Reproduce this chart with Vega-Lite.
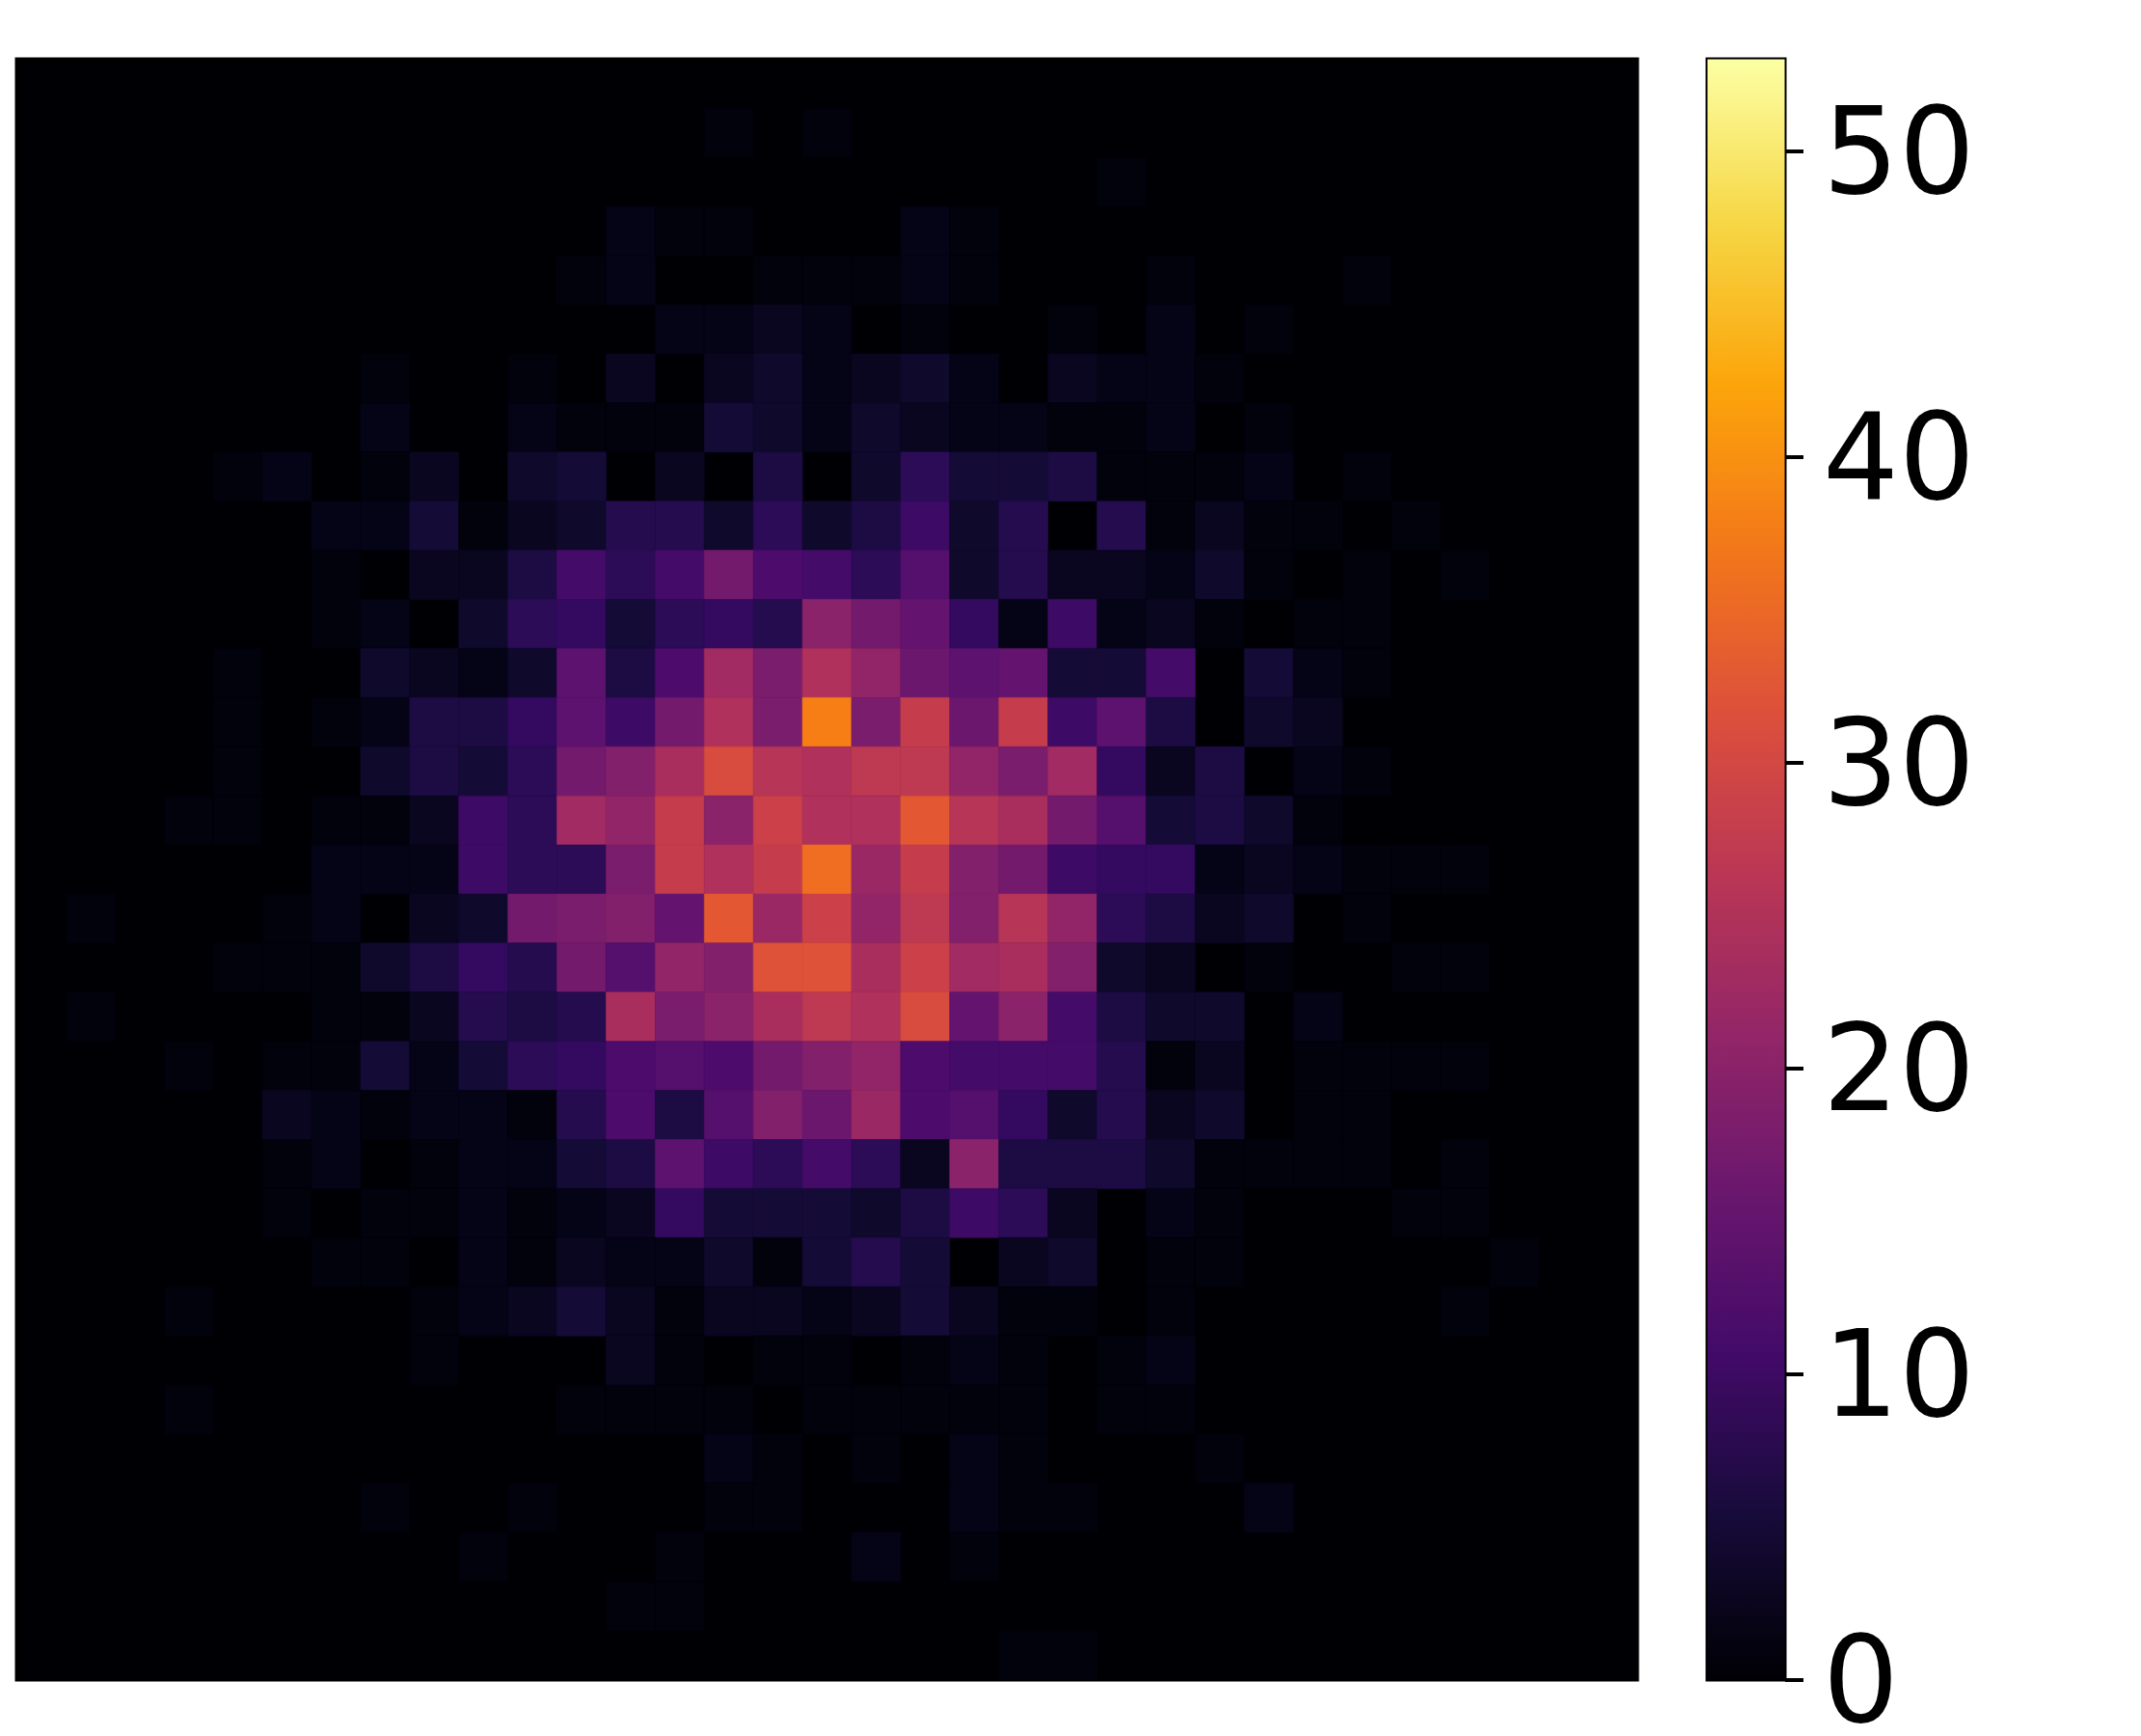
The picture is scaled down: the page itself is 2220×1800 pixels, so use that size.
{"$schema":"https://vega.github.io/schema/vega-lite/v6.json","background":"white","padding":{"left":15.5,"top":59.5,"right":30,"bottom":0},"spacing":69,"config":{"concat":{"spacing":69}},"hconcat":[{"width":1680,"height":1680,"view":{"fill":"#000004","stroke":"black","strokeWidth":4},"data":{"values":[
{"c":14,"r":1,"v":1},{"c":16,"r":1,"v":1},{"c":22,"r":2,"v":1},
{"c":12,"r":3,"v":2},{"c":13,"r":3,"v":1},{"c":14,"r":3,"v":1},{"c":18,"r":3,"v":2},{"c":19,"r":3,"v":1},
{"c":11,"r":4,"v":1},{"c":12,"r":4,"v":2},{"c":15,"r":4,"v":1},{"c":16,"r":4,"v":1},{"c":17,"r":4,"v":1},{"c":18,"r":4,"v":2},{"c":19,"r":4,"v":1},{"c":23,"r":4,"v":1},{"c":27,"r":4,"v":1},
{"c":13,"r":5,"v":2},{"c":14,"r":5,"v":2},{"c":15,"r":5,"v":3},{"c":16,"r":5,"v":2},{"c":18,"r":5,"v":1},{"c":21,"r":5,"v":1},{"c":23,"r":5,"v":2},{"c":25,"r":5,"v":1},
{"c":7,"r":6,"v":1},{"c":10,"r":6,"v":1},{"c":12,"r":6,"v":3},{"c":14,"r":6,"v":3},{"c":15,"r":6,"v":4},{"c":16,"r":6,"v":2},{"c":17,"r":6,"v":3},{"c":18,"r":6,"v":4},{"c":19,"r":6,"v":2},{"c":21,"r":6,"v":3},{"c":22,"r":6,"v":2},{"c":23,"r":6,"v":2},{"c":24,"r":6,"v":1},
{"c":7,"r":7,"v":2},{"c":10,"r":7,"v":2},{"c":11,"r":7,"v":1},{"c":12,"r":7,"v":1},{"c":13,"r":7,"v":1},{"c":14,"r":7,"v":5},{"c":15,"r":7,"v":4},{"c":16,"r":7,"v":2},{"c":17,"r":7,"v":4},{"c":18,"r":7,"v":3},{"c":19,"r":7,"v":2},{"c":20,"r":7,"v":2},{"c":21,"r":7,"v":1},{"c":22,"r":7,"v":1},{"c":23,"r":7,"v":2},{"c":25,"r":7,"v":1},
{"c":4,"r":8,"v":1},{"c":5,"r":8,"v":2},{"c":7,"r":8,"v":1},{"c":8,"r":8,"v":3},{"c":10,"r":8,"v":4},{"c":11,"r":8,"v":5},{"c":13,"r":8,"v":3},{"c":15,"r":8,"v":6},{"c":17,"r":8,"v":4},{"c":18,"r":8,"v":8},{"c":19,"r":8,"v":5},{"c":20,"r":8,"v":5},{"c":21,"r":8,"v":6},{"c":22,"r":8,"v":1},{"c":23,"r":8,"v":1},{"c":24,"r":8,"v":1},{"c":25,"r":8,"v":2},{"c":27,"r":8,"v":1},
{"c":6,"r":9,"v":2},{"c":7,"r":9,"v":2},{"c":8,"r":9,"v":5},{"c":9,"r":9,"v":1},{"c":10,"r":9,"v":3},{"c":11,"r":9,"v":4},{"c":12,"r":9,"v":7},{"c":13,"r":9,"v":7},{"c":14,"r":9,"v":4},{"c":15,"r":9,"v":8},{"c":16,"r":9,"v":4},{"c":17,"r":9,"v":6},{"c":18,"r":9,"v":10},{"c":19,"r":9,"v":4},{"c":20,"r":9,"v":7},{"c":22,"r":9,"v":7},{"c":23,"r":9,"v":1},{"c":24,"r":9,"v":3},{"c":25,"r":9,"v":1},{"c":26,"r":9,"v":1},{"c":28,"r":9,"v":1},
{"c":6,"r":10,"v":1},{"c":8,"r":10,"v":3},{"c":9,"r":10,"v":3},{"c":10,"r":10,"v":6},{"c":11,"r":10,"v":11},{"c":12,"r":10,"v":8},{"c":13,"r":10,"v":11},{"c":14,"r":10,"v":17},{"c":15,"r":10,"v":12},{"c":16,"r":10,"v":11},{"c":17,"r":10,"v":8},{"c":18,"r":10,"v":13},{"c":19,"r":10,"v":4},{"c":20,"r":10,"v":7},{"c":21,"r":10,"v":3},{"c":22,"r":10,"v":3},{"c":23,"r":10,"v":2},{"c":24,"r":10,"v":4},{"c":25,"r":10,"v":1},{"c":27,"r":10,"v":1},{"c":29,"r":10,"v":1},
{"c":6,"r":11,"v":1},{"c":7,"r":11,"v":2},{"c":9,"r":11,"v":4},{"c":10,"r":11,"v":8},{"c":11,"r":11,"v":9},{"c":12,"r":11,"v":5},{"c":13,"r":11,"v":8},{"c":14,"r":11,"v":9},{"c":15,"r":11,"v":7},{"c":16,"r":11,"v":20},{"c":17,"r":11,"v":17},{"c":18,"r":11,"v":15},{"c":19,"r":11,"v":9},{"c":20,"r":11,"v":2},{"c":21,"r":11,"v":10},{"c":22,"r":11,"v":2},{"c":23,"r":11,"v":3},{"c":24,"r":11,"v":1},{"c":26,"r":11,"v":1},{"c":27,"r":11,"v":1},
{"c":4,"r":12,"v":1},{"c":7,"r":12,"v":4},{"c":8,"r":12,"v":3},{"c":9,"r":12,"v":2},{"c":10,"r":12,"v":4},{"c":11,"r":12,"v":14},{"c":12,"r":12,"v":6},{"c":13,"r":12,"v":12},{"c":14,"r":12,"v":23},{"c":15,"r":12,"v":18},{"c":16,"r":12,"v":25},{"c":17,"r":12,"v":21},{"c":18,"r":12,"v":16},{"c":19,"r":12,"v":14},{"c":20,"r":12,"v":15},{"c":21,"r":12,"v":5},{"c":22,"r":12,"v":5},{"c":23,"r":12,"v":11},{"c":25,"r":12,"v":5},{"c":26,"r":12,"v":2},{"c":27,"r":12,"v":1},
{"c":4,"r":13,"v":1},{"c":6,"r":13,"v":1},{"c":7,"r":13,"v":2},{"c":8,"r":13,"v":6},{"c":9,"r":13,"v":6},{"c":10,"r":13,"v":9},{"c":11,"r":13,"v":14},{"c":12,"r":13,"v":10},{"c":13,"r":13,"v":17},{"c":14,"r":13,"v":25},{"c":15,"r":13,"v":18},{"c":16,"r":13,"v":38},{"c":17,"r":13,"v":18},{"c":18,"r":13,"v":28},{"c":19,"r":13,"v":16},{"c":20,"r":13,"v":28},{"c":21,"r":13,"v":10},{"c":22,"r":13,"v":14},{"c":23,"r":13,"v":6},{"c":25,"r":13,"v":4},{"c":26,"r":13,"v":3},
{"c":4,"r":14,"v":1},{"c":7,"r":14,"v":4},{"c":8,"r":14,"v":6},{"c":9,"r":14,"v":5},{"c":10,"r":14,"v":8},{"c":11,"r":14,"v":17},{"c":12,"r":14,"v":19},{"c":13,"r":14,"v":24},{"c":14,"r":14,"v":31},{"c":15,"r":14,"v":26},{"c":16,"r":14,"v":25},{"c":17,"r":14,"v":27},{"c":18,"r":14,"v":27},{"c":19,"r":14,"v":21},{"c":20,"r":14,"v":18},{"c":21,"r":14,"v":23},{"c":22,"r":14,"v":9},{"c":23,"r":14,"v":3},{"c":24,"r":14,"v":6},{"c":26,"r":14,"v":2},{"c":27,"r":14,"v":1},
{"c":3,"r":15,"v":1},{"c":4,"r":15,"v":1},{"c":6,"r":15,"v":1},{"c":7,"r":15,"v":1},{"c":8,"r":15,"v":3},{"c":9,"r":15,"v":10},{"c":10,"r":15,"v":8},{"c":11,"r":15,"v":23},{"c":12,"r":15,"v":21},{"c":13,"r":15,"v":28},{"c":14,"r":15,"v":20},{"c":15,"r":15,"v":29},{"c":16,"r":15,"v":25},{"c":17,"r":15,"v":25},{"c":18,"r":15,"v":33},{"c":19,"r":15,"v":26},{"c":20,"r":15,"v":24},{"c":21,"r":15,"v":17},{"c":22,"r":15,"v":13},{"c":23,"r":15,"v":5},{"c":24,"r":15,"v":6},{"c":25,"r":15,"v":4},{"c":26,"r":15,"v":1},
{"c":6,"r":16,"v":2},{"c":7,"r":16,"v":2},{"c":8,"r":16,"v":2},{"c":9,"r":16,"v":10},{"c":10,"r":16,"v":8},{"c":11,"r":16,"v":8},{"c":12,"r":16,"v":18},{"c":13,"r":16,"v":28},{"c":14,"r":16,"v":25},{"c":15,"r":16,"v":28},{"c":16,"r":16,"v":36},{"c":17,"r":16,"v":22},{"c":18,"r":16,"v":28},{"c":19,"r":16,"v":19},{"c":20,"r":16,"v":17},{"c":21,"r":16,"v":10},{"c":22,"r":16,"v":9},{"c":23,"r":16,"v":9},{"c":24,"r":16,"v":2},{"c":25,"r":16,"v":3},{"c":26,"r":16,"v":2},{"c":27,"r":16,"v":1},{"c":28,"r":16,"v":1},{"c":29,"r":16,"v":1},
{"c":1,"r":17,"v":1},{"c":5,"r":17,"v":1},{"c":6,"r":17,"v":2},{"c":8,"r":17,"v":3},{"c":9,"r":17,"v":4},{"c":10,"r":17,"v":17},{"c":11,"r":17,"v":18},{"c":12,"r":17,"v":19},{"c":13,"r":17,"v":15},{"c":14,"r":17,"v":33},{"c":15,"r":17,"v":22},{"c":16,"r":17,"v":29},{"c":17,"r":17,"v":21},{"c":18,"r":17,"v":27},{"c":19,"r":17,"v":19},{"c":20,"r":17,"v":26},{"c":21,"r":17,"v":21},{"c":22,"r":17,"v":8},{"c":23,"r":17,"v":6},{"c":24,"r":17,"v":3},{"c":25,"r":17,"v":4},{"c":27,"r":17,"v":1},
{"c":4,"r":18,"v":1},{"c":5,"r":18,"v":1},{"c":6,"r":18,"v":1},{"c":7,"r":18,"v":4},{"c":8,"r":18,"v":6},{"c":9,"r":18,"v":9},{"c":10,"r":18,"v":7},{"c":11,"r":18,"v":17},{"c":12,"r":18,"v":13},{"c":13,"r":18,"v":21},{"c":14,"r":18,"v":19},{"c":15,"r":18,"v":32},{"c":16,"r":18,"v":32},{"c":17,"r":18,"v":24},{"c":18,"r":18,"v":29},{"c":19,"r":18,"v":23},{"c":20,"r":18,"v":24},{"c":21,"r":18,"v":19},{"c":22,"r":18,"v":4},{"c":23,"r":18,"v":3},{"c":25,"r":18,"v":1},{"c":28,"r":18,"v":1},{"c":29,"r":18,"v":1},
{"c":1,"r":19,"v":1},{"c":6,"r":19,"v":1},{"c":7,"r":19,"v":1},{"c":8,"r":19,"v":3},{"c":9,"r":19,"v":7},{"c":10,"r":19,"v":6},{"c":11,"r":19,"v":7},{"c":12,"r":19,"v":24},{"c":13,"r":19,"v":18},{"c":14,"r":19,"v":20},{"c":15,"r":19,"v":24},{"c":16,"r":19,"v":27},{"c":17,"r":19,"v":25},{"c":18,"r":19,"v":31},{"c":19,"r":19,"v":15},{"c":20,"r":19,"v":20},{"c":21,"r":19,"v":11},{"c":22,"r":19,"v":6},{"c":23,"r":19,"v":4},{"c":24,"r":19,"v":4},{"c":26,"r":19,"v":2},
{"c":3,"r":20,"v":1},{"c":5,"r":20,"v":1},{"c":6,"r":20,"v":1},{"c":7,"r":20,"v":5},{"c":8,"r":20,"v":2},{"c":9,"r":20,"v":5},{"c":10,"r":20,"v":8},{"c":11,"r":20,"v":9},{"c":12,"r":20,"v":12},{"c":13,"r":20,"v":13},{"c":14,"r":20,"v":12},{"c":15,"r":20,"v":17},{"c":16,"r":20,"v":19},{"c":17,"r":20,"v":21},{"c":18,"r":20,"v":12},{"c":19,"r":20,"v":11},{"c":20,"r":20,"v":11},{"c":21,"r":20,"v":11},{"c":22,"r":20,"v":7},{"c":23,"r":20,"v":1},{"c":24,"r":20,"v":3},{"c":26,"r":20,"v":1},{"c":27,"r":20,"v":1},{"c":28,"r":20,"v":1},{"c":29,"r":20,"v":1},
{"c":5,"r":21,"v":3},{"c":6,"r":21,"v":2},{"c":7,"r":21,"v":1},{"c":8,"r":21,"v":2},{"c":9,"r":21,"v":2},{"c":10,"r":21,"v":1},{"c":11,"r":21,"v":7},{"c":12,"r":21,"v":12},{"c":13,"r":21,"v":6},{"c":14,"r":21,"v":13},{"c":15,"r":21,"v":19},{"c":16,"r":21,"v":16},{"c":17,"r":21,"v":22},{"c":18,"r":21,"v":12},{"c":19,"r":21,"v":13},{"c":20,"r":21,"v":9},{"c":21,"r":21,"v":4},{"c":22,"r":21,"v":7},{"c":23,"r":21,"v":3},{"c":24,"r":21,"v":4},{"c":26,"r":21,"v":1},{"c":27,"r":21,"v":1},
{"c":5,"r":22,"v":1},{"c":6,"r":22,"v":2},{"c":8,"r":22,"v":1},{"c":9,"r":22,"v":2},{"c":10,"r":22,"v":2},{"c":11,"r":22,"v":5},{"c":12,"r":22,"v":6},{"c":13,"r":22,"v":14},{"c":14,"r":22,"v":10},{"c":15,"r":22,"v":8},{"c":16,"r":22,"v":11},{"c":17,"r":22,"v":8},{"c":18,"r":22,"v":3},{"c":19,"r":22,"v":20},{"c":20,"r":22,"v":6},{"c":21,"r":22,"v":6},{"c":22,"r":22,"v":6},{"c":23,"r":22,"v":4},{"c":24,"r":22,"v":1},{"c":25,"r":22,"v":1},{"c":26,"r":22,"v":1},{"c":27,"r":22,"v":1},{"c":29,"r":22,"v":1},
{"c":5,"r":23,"v":1},{"c":7,"r":23,"v":1},{"c":8,"r":23,"v":1},{"c":9,"r":23,"v":2},{"c":10,"r":23,"v":1},{"c":11,"r":23,"v":2},{"c":12,"r":23,"v":3},{"c":13,"r":23,"v":9},{"c":14,"r":23,"v":5},{"c":15,"r":23,"v":5},{"c":16,"r":23,"v":5},{"c":17,"r":23,"v":4},{"c":18,"r":23,"v":6},{"c":19,"r":23,"v":10},{"c":20,"r":23,"v":8},{"c":21,"r":23,"v":3},{"c":23,"r":23,"v":2},{"c":24,"r":23,"v":1},{"c":28,"r":23,"v":1},{"c":29,"r":23,"v":1},
{"c":6,"r":24,"v":1},{"c":7,"r":24,"v":1},{"c":9,"r":24,"v":2},{"c":10,"r":24,"v":1},{"c":11,"r":24,"v":3},{"c":12,"r":24,"v":2},{"c":13,"r":24,"v":2},{"c":14,"r":24,"v":4},{"c":15,"r":24,"v":1},{"c":16,"r":24,"v":5},{"c":17,"r":24,"v":7},{"c":18,"r":24,"v":5},{"c":20,"r":24,"v":3},{"c":21,"r":24,"v":4},{"c":23,"r":24,"v":1},{"c":24,"r":24,"v":1},{"c":30,"r":24,"v":1},
{"c":3,"r":25,"v":1},{"c":8,"r":25,"v":1},{"c":9,"r":25,"v":2},{"c":10,"r":25,"v":3},{"c":11,"r":25,"v":5},{"c":12,"r":25,"v":3},{"c":13,"r":25,"v":1},{"c":14,"r":25,"v":3},{"c":15,"r":25,"v":3},{"c":16,"r":25,"v":2},{"c":17,"r":25,"v":3},{"c":18,"r":25,"v":5},{"c":19,"r":25,"v":3},{"c":20,"r":25,"v":1},{"c":21,"r":25,"v":1},{"c":23,"r":25,"v":1},{"c":29,"r":25,"v":1},
{"c":8,"r":26,"v":1},{"c":12,"r":26,"v":3},{"c":13,"r":26,"v":1},{"c":15,"r":26,"v":1},{"c":16,"r":26,"v":1},{"c":18,"r":26,"v":1},{"c":19,"r":26,"v":2},{"c":20,"r":26,"v":1},{"c":22,"r":26,"v":1},{"c":23,"r":26,"v":2},
{"c":3,"r":27,"v":1},{"c":11,"r":27,"v":1},{"c":12,"r":27,"v":1},{"c":13,"r":27,"v":1},{"c":14,"r":27,"v":1},{"c":16,"r":27,"v":1},{"c":17,"r":27,"v":1},{"c":18,"r":27,"v":1},{"c":19,"r":27,"v":1},{"c":20,"r":27,"v":1},{"c":22,"r":27,"v":1},{"c":23,"r":27,"v":1},
{"c":14,"r":28,"v":2},{"c":15,"r":28,"v":1},{"c":17,"r":28,"v":1},{"c":19,"r":28,"v":2},{"c":20,"r":28,"v":1},{"c":24,"r":28,"v":1},
{"c":7,"r":29,"v":1},{"c":10,"r":29,"v":1},{"c":14,"r":29,"v":1},{"c":15,"r":29,"v":1},{"c":19,"r":29,"v":2},{"c":20,"r":29,"v":1},{"c":21,"r":29,"v":1},{"c":25,"r":29,"v":2},
{"c":9,"r":30,"v":1},{"c":13,"r":30,"v":1},{"c":17,"r":30,"v":2},{"c":19,"r":30,"v":1},
{"c":12,"r":31,"v":1},{"c":13,"r":31,"v":1},
{"c":20,"r":32,"v":1},{"c":21,"r":32,"v":1}
]},"mark":{"type":"rect","strokeWidth":0.6},"encoding":{"x":{"field":"c","type":"ordinal","axis":null,"scale":{"domain":[0,1,2,3,4,5,6,7,8,9,10,11,12,13,14,15,16,17,18,19,20,21,22,23,24,25,26,27,28,29,30,31,32],"paddingInner":0,"paddingOuter":0}},"y":{"field":"r","type":"ordinal","axis":null,"scale":{"domain":[0,1,2,3,4,5,6,7,8,9,10,11,12,13,14,15,16,17,18,19,20,21,22,23,24,25,26,27,28,29,30,31,32],"paddingInner":0,"paddingOuter":0}},"fill":{"field":"v","type":"quantitative","legend":null,"scale":{"scheme":"inferno","domain":[0,53],"nice":false}},"stroke":{"field":"v","type":"quantitative","legend":null,"scale":{"scheme":"inferno","domain":[0,53],"nice":false}}}},{"width":80,"height":1680,"view":{"stroke":"black","strokeWidth":4},"data":{"values":[{"lo":0,"hi":53}]},"mark":{"type":"rect","fill":{"gradient":"linear","x1":0,"y1":1,"x2":0,"y2":0,"stops":[{"offset":0,"color":"#000004"},{"offset":0.1,"color":"#160b39"},{"offset":0.2,"color":"#420a68"},{"offset":0.3,"color":"#6a176e"},{"offset":0.4,"color":"#932667"},{"offset":0.5,"color":"#bc3754"},{"offset":0.6,"color":"#dd513a"},{"offset":0.7,"color":"#f37819"},{"offset":0.8,"color":"#fca50a"},{"offset":0.9,"color":"#f6d746"},{"offset":1,"color":"#fcffa4"}]}},"encoding":{"y":{"field":"lo","type":"quantitative","scale":{"domain":[0,53],"nice":false},"axis":{"orient":"right","title":null,"values":[0,10,20,30,40,50],"grid":false,"domain":false,"tickSize":19,"tickWidth":4,"tickColor":"black","labelFont":"DejaVu Sans","labelFontSize":124,"labelColor":"black","labelPadding":20,"labelBound":false,"labelFlush":false,"labelOverlap":false,"labelOffset":6}},"y2":{"field":"hi"}}}]}
